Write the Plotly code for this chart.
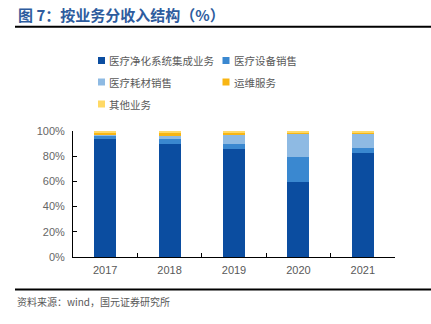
import plotly.graph_objects as go

years = ["2017", "2018", "2019", "2020", "2021"]
series_names = ["医疗净化系统集成业务", "医疗设备销售", "医疗耗材销售", "运维服务", "其他业务"]
integration = [93.5, 89.4, 85.7, 59.7, 82.3]
equipment = [2.8, 4.2, 4.0, 19.6, 4.2]
consumables = [0.8, 2.4, 7.3, 18.9, 11.7]
maintenance = [1.2, 2.2, 1.6, 1.0, 0.8]
other = [1.7, 1.8, 1.4, 0.8, 1.0]
y_ticks = [0, 20, 40, 60, 80, 100]
y_tick_labels = ["0%", "20%", "40%", "60%", "80%", "100%"]

colors = ["#0B4DA0", "#3A88D0", "#8EBAE3", "#F8B513", "#FFD965"]
values = [integration, equipment, consumables, maintenance, other]

W, H = 431, 324
ML, MR, MT, MB = 73, 36, 131, 67
font_cn = "Noto Sans CJK SC"


def px_x(px):
    return (px - ML) / (W - ML - MR)


def px_y(py):
    return (H - MB - py) / (H - MT - MB)


fig = go.Figure()
for name, vals, c in zip(series_names, values, colors):
    fig.add_trace(go.Bar(x=years, y=vals, name=name, showlegend=False,
                         marker=dict(color=c, line=dict(width=0))))

fig.update_layout(
    barmode="stack",
    bargap=0.66,
    width=W, height=H,
    margin=dict(l=ML, r=MR, t=MT, b=MB),
    paper_bgcolor="white", plot_bgcolor="white",
    font=dict(family="Liberation Sans, Arial", color="#595959", size=11),
)
fig.update_xaxes(
    showline=True, linecolor="#000000", linewidth=1,
    ticks="inside", tickson="boundaries", ticklen=4, tickcolor="#000000",
    showgrid=False, tickfont=dict(size=11, color="#595959"), ticklabelstandoff=3,
)
fig.update_yaxes(
    range=[0, 100], tickvals=y_ticks, ticktext=y_tick_labels,
    showline=True, linecolor="#000000", linewidth=1,
    ticks="inside", ticklen=4, tickcolor="#000000",
    showgrid=False, zeroline=False, tickfont=dict(size=11, color="#666666"),
    ticklabelstandoff=5,
)

# legend laid out in two columns: swatch + label
legend_pos = [(98, 60.5), (222.5, 60.5), (98, 82), (222.5, 82), (98, 104)]
for name, c, (lx, ly) in zip(series_names, colors, legend_pos):
    fig.add_shape(type="rect", xref="paper", yref="paper",
                  x0=px_x(lx), x1=px_x(lx + 7), y0=px_y(ly - 3.5), y1=px_y(ly + 3.5),
                  line=dict(width=0), fillcolor=c)
    fig.add_annotation(text=name, xref="paper", yref="paper",
                       x=px_x(lx + 9), y=px_y(ly), xanchor="left", yanchor="middle",
                       showarrow=False, font=dict(family=font_cn, size=10.5, color="#595959"))

# title, rules and source note
fig.add_annotation(text="<b>图 7：按业务分收入结构（%）</b>", xref="paper", yref="paper",
                   x=px_x(16), y=px_y(14), xanchor="left", yanchor="middle", showarrow=False,
                   font=dict(family=font_cn, size=15, color="#2E5C9E"))
fig.add_shape(type="line", xref="paper", yref="paper", x0=px_x(15), x1=px_x(431),
              y0=px_y(26.7), y1=px_y(26.7), line=dict(color="#000000", width=2))
fig.add_shape(type="line", xref="paper", yref="paper", x0=px_x(15), x1=px_x(431),
              y0=px_y(289.5), y1=px_y(289.5), line=dict(color="#000000", width=2))
fig.add_annotation(text="资料来源：wind，国元证券研究所", xref="paper", yref="paper",
                   x=px_x(15), y=px_y(301.5), xanchor="left", yanchor="middle", showarrow=False,
                   font=dict(family=font_cn, size=10, color="#595959"))

fig.write_html("out.html")
